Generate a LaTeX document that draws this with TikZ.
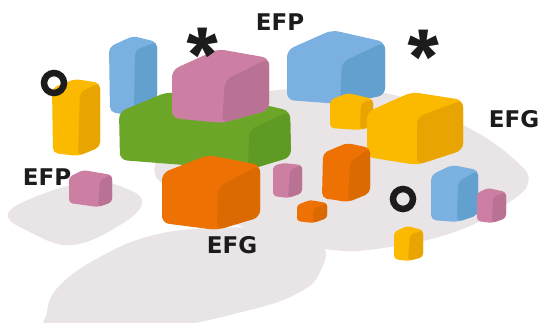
\documentclass[tikz,border=0pt]{standalone}
\usepackage{fontspec}
\newfontfamily\lblfont{DejaVu Sans Bold}
\newfontfamily\starfont{Fira Sans Bold}
\definecolor{ylL}{HTML}{FBB900}
\definecolor{ylD}{HTML}{E8A400}
\definecolor{blL}{HTML}{7BB1E0}
\definecolor{blD}{HTML}{62A0CF}
\definecolor{pkL}{HTML}{CC7FA3}
\definecolor{pkD}{HTML}{BA7294}
\definecolor{gnL}{HTML}{6CA628}
\definecolor{gnD}{HTML}{5F9A25}
\definecolor{orL}{HTML}{EE7203}
\definecolor{orD}{HTML}{DB6A02}
\definecolor{blob}{HTML}{E9E4E5}
\definecolor{ink}{HTML}{1C1C1C}
\newcommand\blk[5]{%
  \fill[#1, rounded corners=#3] #4 -- cycle;
  \fill[#2, rounded corners=#3] #5 -- cycle;}
\tikzset{
  lbl/.style={font=\lblfont\fontsize{23}{23}\selectfont, text=ink, inner sep=0pt, anchor=center},
  star/.style={font=\starfont\fontsize{72}{72}\selectfont, text=ink, inner sep=0pt, anchor=north},
  ring/.style={draw=ink, line width=6.5pt}
}
\begin{document}
\begin{tikzpicture}[x=1pt, y=-1pt]
\useasboundingbox (0,0) rectangle (542,322);
% background blobs
\fill[blob] plot[smooth cycle, tension=0.7] coordinates {(8,214) (40,195) (90,182) (125,188) (142,203) (120,225) (72,245) (30,232)};
\fill[blob] plot[smooth cycle, tension=0.7] coordinates {(47,312) (60,285) (100,257) (150,236) (210,228) (280,230) (322,245) (320,272) (300,292) (250,310) (150,330) (55,330)};
\fill[blob] plot[smooth cycle, tension=0.7] coordinates {(155,165) (200,115) (270,91) (380,92) (463,125) (515,160) (528,183) (505,205) (460,230) (390,247) (325,249) (240,226) (180,195)};
% blocks
\blk{blL}{blD}{5pt}{(109,47)--(133,36)--(157,42)--(157,112)--(134,116)--(110,112)}{(135,50)--(157,42)--(157,112)--(134,116)}
\blk{ylL}{ylD}{5pt}{(52,88)--(75,79)--(100,83)--(100,147)--(78,156)--(53,153)}{(80,92)--(100,83)--(100,147)--(78,156)}
\blk{gnL}{gnD}{7pt}{(119,112)--(167,92)--(270,106)--(290,111)--(291,157)--(248,170)--(120,160)}{(249,130)--(290,111)--(291,157)--(248,170)}
\blk{pkL}{pkD}{7pt}{(172,70)--(218,49)--(269,58)--(269,110)--(222,123)--(172,118)}{(225,80)--(269,58)--(269,110)--(222,123)}
\blk{blL}{blD}{7pt}{(287,50)--(332,30)--(385,42)--(385,95)--(340,104)--(287,100)}{(342,62)--(385,42)--(385,95)--(340,104)}
\blk{ylL}{ylD}{4pt}{(330,100)--(348,93)--(373,99)--(373,126)--(360,130)--(330,128)}{(361,103)--(373,99)--(373,126)--(360,130)}
\blk{ylL}{ylD}{7pt}{(367,112)--(412,92)--(463,100)--(463,150)--(417,165)--(367,157)}{(417,117)--(463,100)--(463,150)--(417,165)}
\blk{orL}{orD}{7pt}{(162,173)--(208,155)--(260,165)--(260,217)--(217,230)--(162,223)}{(218,187)--(260,165)--(260,217)--(217,230)}
\blk{pkL}{pkD}{3.5pt}{(69,177)--(83,170)--(112,175)--(112,202)--(98,207)--(69,203)}{(100,180)--(112,175)--(112,202)--(98,207)}
\blk{pkL}{pkD}{3.5pt}{(273,166)--(283,163)--(302,165)--(302,193)--(288,198)--(273,196)}{(290,170)--(302,165)--(302,193)--(288,198)}
\blk{orL}{orD}{5pt}{(323,153)--(347,143)--(370,148)--(370,193)--(348,202)--(322,198)}{(350,162)--(370,148)--(370,193)--(348,202)}
\blk{orL}{orD}{3pt}{(297,205)--(310,200)--(327,203)--(327,218)--(313,223)--(297,221)}{(313,209)--(327,203)--(327,218)--(313,223)}
\blk{blL}{blD}{5pt}{(431,175)--(452,165)--(478,170)--(478,215)--(457,222)--(431,220)}{(458,182)--(478,170)--(478,215)--(457,222)}
\blk{pkL}{pkD}{3.5pt}{(477,193)--(488,188)--(506,192)--(506,218)--(492,223)--(477,221)}{(493,197)--(506,192)--(506,218)--(492,223)}
\blk{ylL}{ylD}{3.5pt}{(394,232)--(407,226)--(423,230)--(423,257)--(408,261)--(394,259)}{(410,235)--(423,230)--(423,257)--(408,261)}
% rings
\draw[ring] (54,83) circle[radius=10];
\draw[ring] (403,199) circle[radius=10];
% labels
\node[lbl] (efpTop) at (280,22) {EFP};
\node[lbl] (efgRight) at (514,119) {EFG};
\node[lbl] (efpLeft) at (47,177) {EFP};
\node[lbl] (efgBottom) at (232,245) {EFG};
\node[star] (starA) at (203,28) {*};
\node[star] (starB) at (424,30) {*};
\end{tikzpicture}
\end{document}
